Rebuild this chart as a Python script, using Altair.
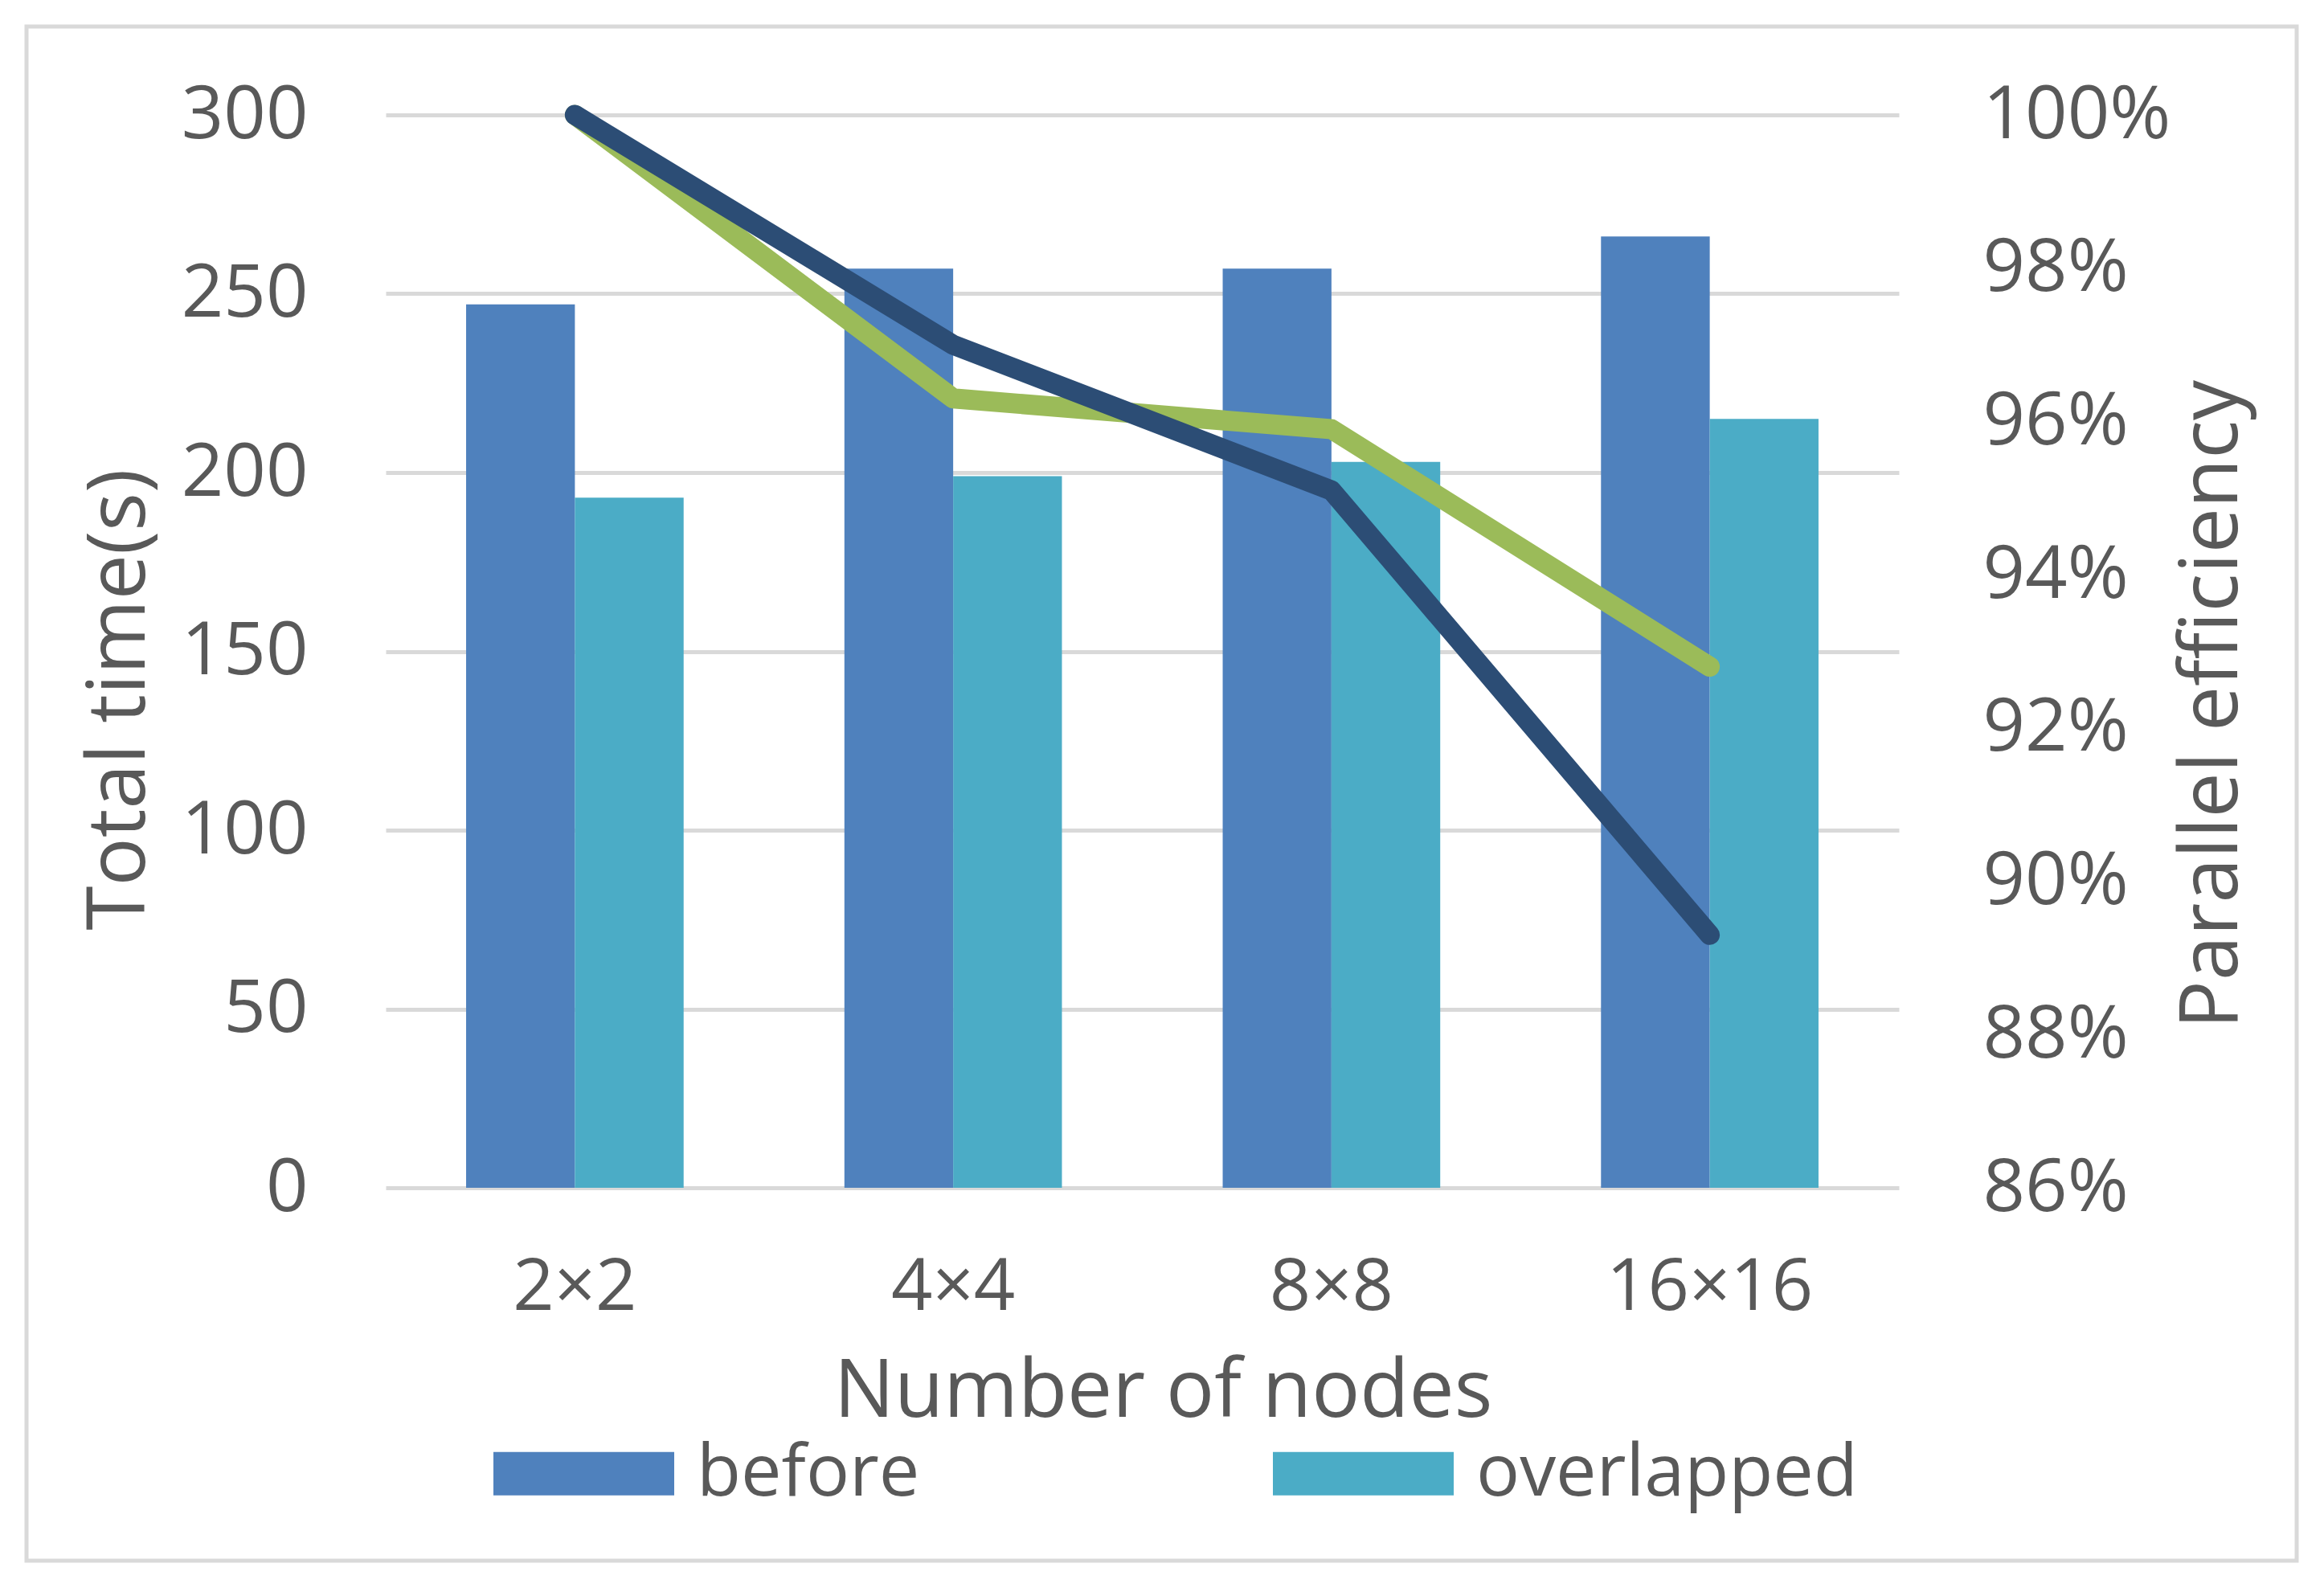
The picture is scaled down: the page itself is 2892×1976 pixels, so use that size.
import altair as alt
import pandas as pd

# ---- data ----
nodes = ["2×2", "4×4", "8×8", "16×16"]
series = ["before", "overlapped"]
time_before = [247, 257, 257, 266]
time_overlapped = [193, 199, 203, 215]
eff_before = [1.000, 0.970, 0.951, 0.893]
eff_overlapped = [1.000, 0.963, 0.959, 0.928]
time_ticks = [0, 50, 100, 150, 200, 250, 300]
eff_ticks = [0.86, 0.88, 0.90, 0.92, 0.94, 0.96, 0.98, 1.00]

bar_colors = ["#4F81BD", "#4BACC6"]
navy = "#2C4D75"
green = "#9BBB59"
text_color = "#595959"
grid_color = "#D9D9D9"
font = "Open Sans"

bars_df = pd.DataFrame({
    "nodes": nodes * 2,
    "series": [series[0]] * len(nodes) + [series[1]] * len(nodes),
    "time": time_before + time_overlapped,
})
eff_b_df = pd.DataFrame({"nodes": nodes, "eff": eff_before})
eff_o_df = pd.DataFrame({"nodes": nodes, "eff": eff_overlapped})
frame_df = pd.DataFrame({"f": [0]})

x_enc = alt.X(
    "nodes:N",
    sort=nodes,
    scale=alt.Scale(paddingInner=0.425, paddingOuter=0.2125),
    axis=alt.Axis(
        title="Number of nodes",
        labelAngle=0,
        labelPadding=80,
        labelFontSize=90,
        titleX=967,
        titleY=284,
        titleBaseline="alphabetic",
    ),
)

frame = alt.Chart(frame_df).mark_rect(
    fillOpacity=0, stroke=grid_color, strokeWidth=5
).encode(
    x=alt.value(-447), x2=alt.value(2378), y=alt.value(-110), y2=alt.value(1799)
)

bars = alt.Chart(bars_df).mark_bar().encode(
    x=x_enc,
    xOffset=alt.XOffset("series:N", sort=series,
                        scale=alt.Scale(paddingInner=0, paddingOuter=0)),
    y=alt.Y(
        "time:Q",
        scale=alt.Scale(domain=[0, 300], nice=False, zero=True),
        axis=alt.Axis(
            values=time_ticks,
            title="Total time(s)",
            labelPadding=97,
            titleAngle=270,
            titleX=-331,
            titleY=727,
            titleBaseline="middle",
            grid=True,
        ),
    ),
    color=alt.Color(
        "series:N",
        scale=alt.Scale(domain=series, range=bar_colors),
        legend=alt.Legend(
            title=None,
            orient="none",
            legendX=134,
            legendY=1578,
            direction="horizontal",
            columns=2,
            symbolType="M-1,-0.24H1V0.24H-1Z",
            symbolSize=50625,
            symbolStrokeWidth=0,
            symbolOpacity=1,
            labelFont=font,
            labelFontSize=90,
            labelColor=text_color,
            labelOffset=28,
            labelLimit=2000,
            columnPadding=439,
        ),
    ),
)

y_eff = alt.Y(
    "eff:Q",
    scale=alt.Scale(domain=[0.86, 1.0], nice=False, zero=False),
    axis=alt.Axis(
        orient="right",
        values=eff_ticks,
        format=".0%",
        title="Parallel efficiency",
        labelPadding=104,
        grid=False,
        titleAngle=270,
        titleX=390,
        titleY=733,
        titleBaseline="middle",
    ),
)

line_o = alt.Chart(eff_o_df).mark_line(
    color=green, strokeWidth=25, strokeCap="round", strokeJoin="round"
).encode(x=x_enc, y=y_eff)

line_b = alt.Chart(eff_b_df).mark_line(
    color=navy, strokeWidth=25, strokeCap="round", strokeJoin="round"
).encode(x=x_enc, y=y_eff)

lines = alt.layer(line_o, line_b)

chart = alt.layer(frame, bars, lines).resolve_scale(
    y="independent"
).properties(
    width=1883,
    height=1335,
    background="white",
    autosize=alt.AutoSizeParams(type="none"),
    padding={"left": 472, "top": 135, "right": 515, "bottom": 490},
).configure_view(
    stroke=None
).configure_axis(
    labelFont=font,
    labelFontSize=92,
    labelColor=text_color,
    labelLimit=2000,
    titleFont=font,
    titleFontSize=100,
    titleFontWeight="normal",
    titleColor=text_color,
    titleLimit=3000,
    domain=False,
    ticks=False,
    gridColor=grid_color,
    gridWidth=5,
)

chart.save("out.html", embed_options={"renderer": "svg", "actions": False})
